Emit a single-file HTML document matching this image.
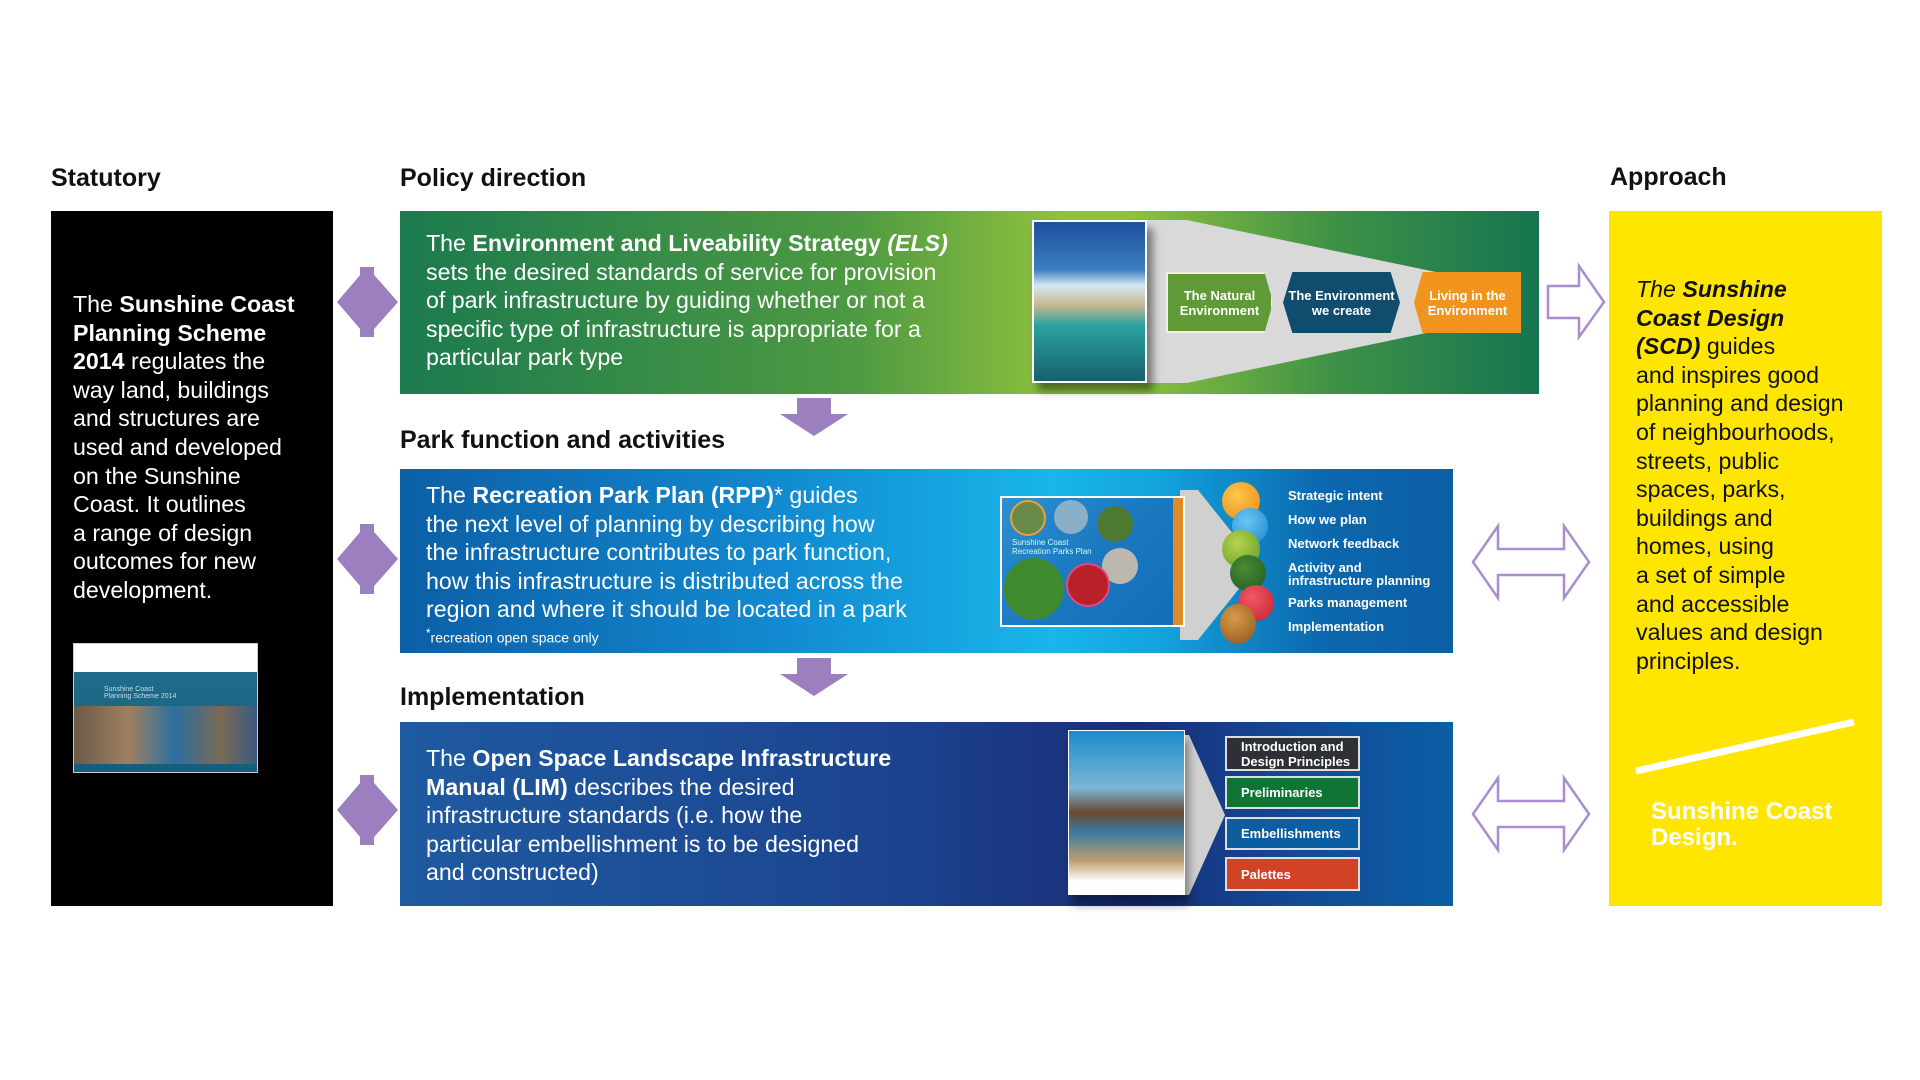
<!DOCTYPE html>
<html><head><meta charset="utf-8"><style>
*{margin:0;padding:0;box-sizing:border-box}
body{width:1920px;height:1080px;background:#fff;position:relative;overflow:hidden;font-family:"Liberation Sans",Arial,sans-serif}
.a{position:absolute}
.h{font-weight:bold;font-size:25px;color:#111}
.t{font-size:23.2px;line-height:28.6px;color:#fff;white-space:nowrap}
.hex{position:absolute;display:flex;align-items:center;justify-content:center;text-align:center;color:#fff;font-size:13px;font-weight:bold;line-height:15px;clip-path:polygon(0 0,92% 0,100% 50%,92% 100%,0 100%,0 100%)}
.lst{position:absolute;left:1288px;color:#fff;font-size:13px;font-weight:bold}
.bx{position:absolute;left:1225px;width:135px;color:#fff;font-size:13px;font-weight:bold;border:2px solid #ddd;padding-left:14px;display:flex;align-items:center;line-height:15px}
</style></head><body>
<div class="a h" style="left:51px;top:164px">Statutory</div>
<div class="a h" style="left:400px;top:164px">Policy direction</div>
<div class="a h" style="left:1610px;top:163px">Approach</div>
<div class="a h" style="left:400px;top:426px">Park function and activities</div>
<div class="a h" style="left:400px;top:683px">Implementation</div>

<!-- black box -->
<div class="a" style="left:51px;top:211px;width:282px;height:695px;background:#000"></div>
<div class="a t" style="left:73px;top:290px">The <b>Sunshine Coast</b><br><b>Planning Scheme</b><br><b>2014</b> regulates the<br>way land, buildings<br>and structures are<br>used and developed<br>on the Sunshine<br>Coast. It outlines<br>a range of design<br>outcomes for new<br>development.</div>
<div class="a" style="left:73px;top:643px;width:185px;height:130px;background:#fff;border:1px solid #ccc">
 <div class="a" style="left:0;top:28px;width:183px;height:100px;background:linear-gradient(#1e6d8a,#165d7a)"></div>
 <div class="a" style="left:0;top:62px;width:183px;height:58px;background:linear-gradient(90deg,#6b5a48,#a08060 30%,#2a6fa0 55%,#7a6a55 80%,#3a5a80)"></div>
 <div class="a" style="left:30px;top:42px;font-size:7px;color:#cde">Sunshine Coast<br>Planning Scheme 2014</div>
</div>

<!-- green box -->
<div class="a" style="left:400px;top:211px;width:1139px;height:183px;background:linear-gradient(90deg,#1b7a4e 0%,#4e9a42 40%,#8fc13e 58%,#8fc13e 64%,#3e9146 82%,#167550 100%)"></div>
<div class="a t" style="left:426px;top:229px">The <b>Environment and Liveability Strategy <i>(ELS)</i></b><br>sets the desired standards of service for provision<br>of park infrastructure by guiding whether or not a<br>specific type of infrastructure is appropriate for a<br>particular park type</div>
<div class="a" style="left:1140px;top:220px;width:390px;height:163px;background:#d9d9d9;clip-path:polygon(0 0,12% 0,92% 40%,92% 60%,12% 100%,0 100%)"></div>
<div class="a" style="left:1032px;top:220px;width:115px;height:163px;background:linear-gradient(#1d4f9c 0%,#3c7ec0 30%,#d7e8f2 40%,#c8b98f 52%,#2aa3a0 65%,#17606e 100%);border:2px solid #fff;box-shadow:6px 8px 8px rgba(0,0,0,.45)"></div>
<div class="hex" style="left:1166px;top:272px;width:107px;height:61px;background:#5f9a36;border:2px solid #eee">The Natural<br>Environment</div>
<div class="hex" style="left:1283px;top:272px;width:117px;height:61px;background:#0f4c6e;clip-path:polygon(8% 0,92% 0,100% 50%,92% 100%,8% 100%,0 50%)">The Environment<br>we create</div>
<div class="hex" style="left:1414px;top:272px;width:107px;height:61px;background:#f0941e;clip-path:polygon(8% 0,100% 0,100% 100%,8% 100%,0 50%)">Living in the<br>Environment</div>

<!-- blue box 2 -->
<div class="a" style="left:400px;top:469px;width:1053px;height:184px;background:linear-gradient(90deg,#0c5fa6 0%,#1288cf 35%,#18b6ea 62%,#13a3dd 72%,#0c67ad 88%,#0b5ea5 100%)"></div>
<div class="a t" style="left:426px;top:481px">The <b>Recreation Park Plan (RPP)</b>* guides<br>the next level of planning by describing how<br>the infrastructure contributes to park function,<br>how this infrastructure is distributed across the<br>region and where it should be located in a park</div>
<div class="a" style="left:426px;top:627px;color:#fff;font-size:14px"><sup>*</sup>recreation open space only</div>
<div class="a" style="left:1180px;top:490px;width:90px;height:150px;background:#d0d0d0;clip-path:polygon(0 0,20% 0,80% 45%,80% 55%,20% 100%,0 100%)"></div>
<div class="a" style="left:1000px;top:496px;width:185px;height:131px;background:linear-gradient(135deg,#2e8fd0,#1a78c0 50%,#146db5);border:2px solid #fff">
 <div class="a" style="right:0;top:0;width:10px;height:127px;background:#e08a2a"></div>
 <div class="a" style="left:2px;top:60px;width:60px;height:62px;border-radius:50%;background:#3f8a2e"></div>
 <div class="a" style="left:8px;top:2px;width:36px;height:36px;border-radius:50%;background:#6a8a4a;border:2px solid #e9a23a"></div>
 <div class="a" style="left:52px;top:2px;width:34px;height:34px;border-radius:50%;background:#8ab0c8"></div>
 <div class="a" style="left:95px;top:8px;width:36px;height:36px;border-radius:50%;background:#4d7a30"></div>
 <div class="a" style="left:100px;top:50px;width:36px;height:36px;border-radius:50%;background:#bcb8b0"></div>
 <div class="a" style="left:64px;top:65px;width:44px;height:44px;border-radius:50%;background:#b8202a;border:2px solid #e04a80"></div>
 <div class="a" style="left:10px;top:40px;font-size:8px;color:#cfe">Sunshine Coast<br>Recreation Parks Plan</div>
</div>
<div class="a" style="left:1222px;top:482px;width:38px;height:38px;border-radius:50%;background:radial-gradient(circle at 40% 35%,#ffc64a,#e8891a)"></div>
<div class="a" style="left:1232px;top:508px;width:36px;height:36px;border-radius:50%;background:radial-gradient(circle at 40% 35%,#6cc6f2,#1e86cc)"></div>
<div class="a" style="left:1222px;top:530px;width:38px;height:38px;border-radius:50%;background:radial-gradient(circle at 40% 35%,#b7d34e,#5e9a25)"></div>
<div class="a" style="left:1230px;top:555px;width:36px;height:36px;border-radius:50%;background:radial-gradient(circle at 40% 35%,#4a8a36,#1d5a1e)"></div>
<div class="a" style="left:1238px;top:585px;width:36px;height:36px;border-radius:50%;background:radial-gradient(circle at 40% 35%,#f05a66,#c41e2e)"></div>
<div class="a" style="left:1220px;top:604px;width:36px;height:40px;border-radius:50%;background:radial-gradient(circle at 40% 35%,#d99a4a,#8a5418)"></div>
<div class="lst" style="top:488px">Strategic intent</div>
<div class="lst" style="top:512px">How we plan</div>
<div class="lst" style="top:536px">Network feedback</div>
<div class="lst" style="top:561px;line-height:13px">Activity and<br>infrastructure planning</div>
<div class="lst" style="top:595px">Parks management</div>
<div class="lst" style="top:619px">Implementation</div>

<!-- box 3 -->
<div class="a" style="left:400px;top:722px;width:1053px;height:184px;background:linear-gradient(90deg,#1e5aa0 0%,#1c4590 45%,#1a2e78 70%,#124a95 85%,#0b5ea5 100%)"></div>
<div class="a t" style="left:426px;top:744px">The <b>Open Space Landscape Infrastructure</b><br><b>Manual (LIM)</b> describes the desired<br>infrastructure standards (i.e. how the<br>particular embellishment is to be designed<br>and constructed)</div>
<div class="a" style="left:1180px;top:735px;width:45px;height:160px;background:#d0d0d0;clip-path:polygon(0 0,20% 0,100% 50%,20% 100%,0 100%)"></div>
<div class="a" style="left:1068px;top:730px;width:117px;height:165px;background:linear-gradient(#1c8cc8 0%,#7ab6d8 35%,#6a4a30 50%,#3a7aa0 62%,#c0a070 80%,#fff 92%);border:1px solid #fff;box-shadow:4px 10px 8px rgba(0,0,0,.4)"></div>
<div class="bx" style="top:736px;height:35px;background:#2e3038">Introduction and<br>Design Principles</div>
<div class="bx" style="top:776px;height:33px;background:#107435">Preliminaries</div>
<div class="bx" style="top:817px;height:33px;background:#0c5ea3">Embellishments</div>
<div class="bx" style="top:857px;height:34px;background:#d24326">Palettes</div>

<!-- yellow -->
<div class="a" style="left:1609px;top:211px;width:273px;height:695px;background:#ffe600"></div>
<div class="a t" style="left:1636px;top:275px;color:#111"><i>The <b>Sunshine</b></i><br><i><b>Coast Design</b></i><br><i><b>(SCD)</b></i> guides<br>and inspires good<br>planning and design<br>of neighbourhoods,<br>streets, public<br>spaces, parks,<br>buildings and<br>homes, using<br>a set of simple<br>and accessible<br>values and design<br>principles.</div>
<svg class="a" style="left:1609px;top:700px" width="273" height="90"><line x1="27" y1="71" x2="245" y2="22" stroke="#fff" stroke-width="7"/></svg>
<div class="a" style="left:1651px;top:799px;color:#fff;font-weight:bold;font-size:24px;line-height:26px">Sunshine Coast<br>Design.</div>

<!-- arrows -->
<svg class="a" style="left:0;top:0" width="1920" height="1080">
<g fill="#9b7fbf">
<polygon points="337,302 367,267 398,302 367,337"/><rect x="360" y="267" width="14" height="70"/>
<polygon points="337,559 367,524 398,559 367,594"/><rect x="360" y="524" width="14" height="70"/>
<polygon points="337,810 367,775 398,810 367,845"/><rect x="360" y="775" width="14" height="70"/>
<polygon points="797,398 831,398 831,414 848,414 814,436 780,414 797,414"/>
<polygon points="797,658 831,658 831,674 848,674 814,696 780,674 797,674"/>
</g>
<g fill="none" stroke="#a98dcf" stroke-width="2.5">
<polygon points="1548,286 1579,286 1579,266 1604,302 1579,337 1579,318 1548,318"/>
<polygon points="1473,562 1498,526 1498,549 1564,549 1564,526 1589,562 1564,598 1564,575 1498,575 1498,598"/>
<polygon points="1473,814 1498,778 1498,801 1564,801 1564,778 1589,814 1564,850 1564,827 1498,827 1498,850"/>
</g>
</svg>
</body></html>
